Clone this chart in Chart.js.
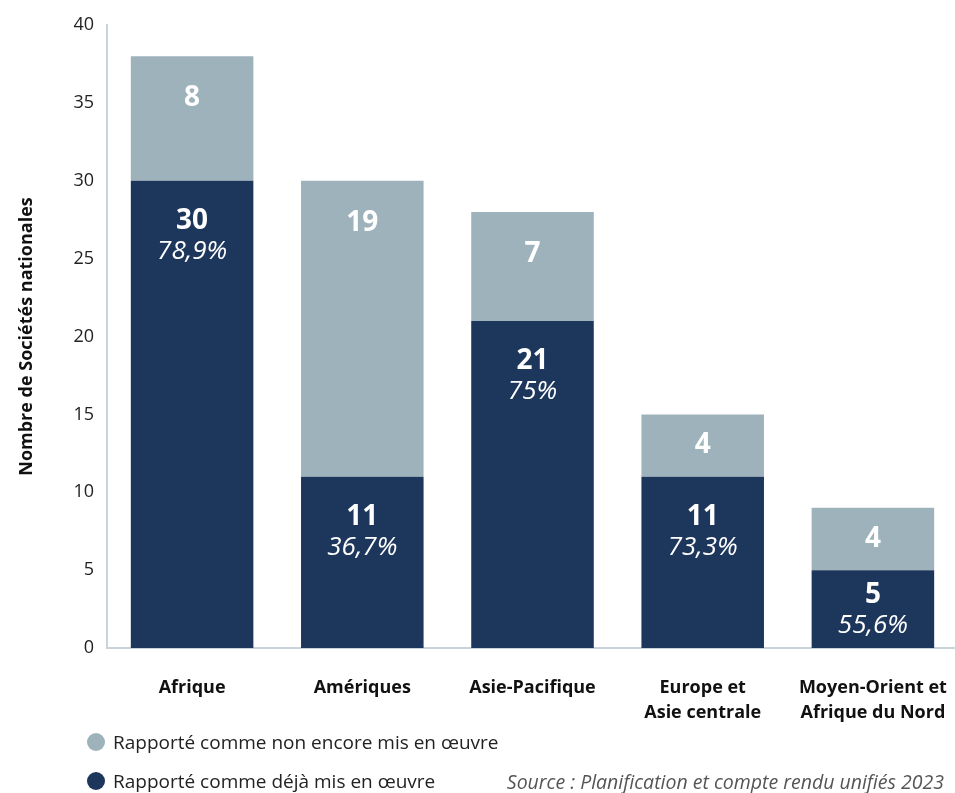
<!DOCTYPE html>
<html>
<head>
<meta charset="utf-8">
<script src="https://cdn.jsdelivr.net/npm/chart.js@4"></script>
<style>
    body { margin: 0; background: #fff; font-family: "Open Sans", sans-serif; overflow: hidden; }
    #wrap { position: relative; width: 955px; height: 793px; overflow: hidden; }
    .legend-item { position: absolute; left: 87px; font-size: 19px; color: #222; display: flex; align-items: center; }
    .legend-item span.dot { width: 18px; height: 18px; border-radius: 50%; margin-right: 8px; display: inline-block; }
    #source { position: absolute; right: 11px; top: 768px; font-size: 19.5px; font-style: italic; color: #555; }
</style>
</head>
<body>
<div id="wrap">
    <canvas id="chart" width="958" height="793"></canvas>
    <div class="legend-item" style="top:729px"><span class="dot" style="background:#9eb2bb"></span>Rapporté comme non encore mis en œuvre</div>
    <div class="legend-item" style="top:768px"><span class="dot" style="background:#1d365c"></span>Rapporté comme déjà mis en œuvre</div>
    <div id="source">Source : Planification et compte rendu unifiés 2023</div>
</div>
<script>
const regions = [
    "Afrique",
    "Amériques",
    "Asie-Pacifique",
    ["Europe et", "Asie centrale"],
    ["Moyen-Orient et", "Afrique du Nord"]
];
const implemented = [30, 11, 21, 11, 5];
const notImplemented = [8, 19, 7, 4, 4];
const implementedPct = ["78,9%", "36,7%", "75%", "73,3%", "55,6%"];
const yTicks = [0, 5, 10, 15, 20, 25, 30, 35, 40];

const DARK = "#1d365c";
const LIGHT = "#9eb2bb";
const AXIS = "#c9d4da";

// draws the white numbers inside each bar segment
const barLabels = {
    id: "barLabels",
    afterDatasetsDraw(chart) {
        const ctx = chart.ctx;
        ctx.save();
        ctx.fillStyle = "#fff";
        ctx.textAlign = "center";
        ctx.textBaseline = "middle";

        chart.getDatasetMeta(0).data.forEach((bar, i) => {
            const top = bar.y, h = bar.base - bar.y;
            let y1 = top + Math.min(40, h / 2 - 14);
            ctx.font = "bold 28px 'Open Sans'";
            ctx.fillText(implemented[i], bar.x, y1);
            ctx.font = "italic 26px 'Open Sans'";
            ctx.fillText(implementedPct[i], bar.x, y1 + Math.min(31, h / 2 - 8));
        });

        chart.getDatasetMeta(1).data.forEach((bar, i) => {
            const top = bar.y, h = bar.base - bar.y;
            ctx.font = "bold 28px 'Open Sans'";
            ctx.fillText(notImplemented[i], bar.x, top + Math.min(42, h / 2));
        });
        ctx.restore();
    }
};

new Chart(document.getElementById("chart"), {
    type: "bar",
    data: {
        labels: regions,
        datasets: [
            { label: "Rapporté comme déjà mis en œuvre", data: implemented, backgroundColor: DARK, barPercentage: 0.72, categoryPercentage: 1 },
            { label: "Rapporté comme non encore mis en œuvre", data: notImplemented, backgroundColor: LIGHT, barPercentage: 0.72, categoryPercentage: 1 }
        ]
    },
    options: {
        responsive: false,
        animation: false,
        layout: { padding: { top: 25, right: 0 } },
        plugins: { legend: { display: false }, tooltip: { enabled: false } },
        scales: {
            x: {
                stacked: true,
                grid: { display: false, drawTicks: true, tickLength: 25 },
                border: { display: true, color: AXIS, width: 2 },
                ticks: { color: "#111", font: { family: "Open Sans", size: 18, weight: "bold", lineHeight: 1.35 }, padding: 3, maxRotation: 0 },
                afterFit: (s) => { s.height = 145; }
            },
            y: {
                stacked: true,
                min: 0, max: 40,
                afterBuildTicks: (s) => { s.ticks = yTicks.map(v => ({ value: v })); },
                grid: { display: false, drawTicks: false },
                border: { display: true, color: AXIS, width: 2 },
                ticks: { color: "#222", font: { family: "Open Sans", size: 18 }, padding: 13 },
                title: { display: true, text: "Nombre de Sociétés nationales", color: "#111", font: { family: "Open Sans", size: 18, weight: "bold" }, padding: { top: 16 } },
                afterFit: (s) => { s.width = 107; }
            }
        }
    },
    plugins: [barLabels]
});
</script>
</body>
</html>
